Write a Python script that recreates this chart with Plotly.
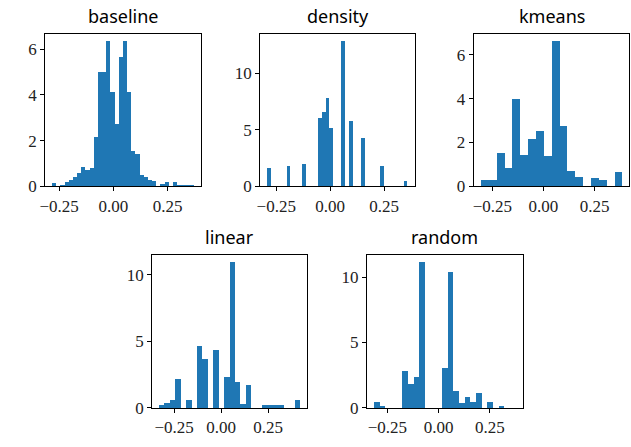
import plotly.graph_objects as go

W, H = 631, 447

titles = ["baseline", "density", "kmeans", "linear", "random"]

# histogram bin ranges (data min / max) and bin heights (density)
baseline_range = (-0.281, 0.372)
baseline_vals = [0.14, 0, 0.04, 0.2, 0.26, 0.41, 0.56, 0.84, 0.73, 0.78, 2.17, 5.0, 5.0, 6.34,
                 4.14, 2.71, 5.64, 6.34, 4.1, 1.52, 1.39, 0.47, 0.42, 0.28, 0.23, 0, 0.08, 0.18,
                 0, 0.18, 0.05, 0.05, 0.05, 0.05]

density_range = (-0.2915, 0.3595)
density_vals = [1.64, 0, 0, 0, 0, 1.79, 0, 0, 0, 1.99, 0, 0, 0, 6.05, 6.54, 7.78, 5.16, 0, 0,
                12.8, 0, 5.76, 0, 0, 4.29, 0, 0, 0, 0, 1.79, 0, 0, 0, 0, 0, 0.43]

kmeans_range = (-0.306, 0.385)
kmeans_vals = [0.30, 0.30, 1.50, 0.83, 3.95, 1.41, 2.17, 2.53, 1.37, 6.6, 2.75, 0.70, 0.40, 0,
               0.36, 0.27, 0, 0.65]

linear_range = (-0.329, 0.421)
linear_vals = [0.17, 0.32, 0.54, 2.15, 0, 0.54, 0, 4.65, 3.62, 0, 4.28, 0, 2.3, 10.9, 1.93,
               0.24, 1.71, 0, 0, 0.17, 0.17, 0.17, 0.17, 0, 0, 0.54]

random_range = (-0.316, 0.376)
random_vals = [0.42, 0.1, 0, 0, 0, 2.8, 1.83, 2.35, 11.1, 0, 0, 0, 3.02, 10.38, 1.3, 0.33,
               0.78, 0.4, 1.08, 0, 0.42, 0, 0.15, 0, 0]

x_tickvals = [-0.25, 0.0, 0.25]
x_ticktext = ["\u22120.25", "0.00", "0.25"]
y_ticks_small = [0, 2, 4, 6]
y_ticks_big = [0, 5, 10]

panels = [
    (baseline_range, baseline_vals, y_ticks_small),
    (density_range, density_vals, y_ticks_big),
    (kmeans_range, kmeans_vals, y_ticks_small),
    (linear_range, linear_vals, y_ticks_big),
    (random_range, random_vals, y_ticks_big),
]

# axes boxes in pixels (left, right, top, bottom)
boxes = [
    (39.7, 197.0, 35.0, 190.7),
    (256.7, 412.7, 35.0, 190.7),
    (472.3, 629.3, 35.0, 190.7),
    (147.7, 304.3, 261.3, 417.3),
    (364.3, 521.7, 261.3, 417.3),
]

BLUE = "#1f77b4"
TICK_FONT = dict(family="Liberation Serif", size=17, color="#222222")

fig = go.Figure()
annotations = []
for i, ((lo, hi), vals, yt) in enumerate(panels):
    n = len(vals)
    w = (hi - lo) / n
    centers = [lo + w * (k + 0.5) for k in range(n)]
    xa = "x" if i == 0 else f"x{i+1}"
    ya = "y" if i == 0 else f"y{i+1}"
    fig.add_trace(go.Bar(x=centers, y=vals, width=[w] * n, marker=dict(color=BLUE, line=dict(width=0)),
                         xaxis=xa, yaxis=ya, showlegend=False))
    l, r, t, b = boxes[i]
    pad = 0.05 * (hi - lo)
    ymax = max(vals) * 1.05
    xkey = "xaxis" if i == 0 else f"xaxis{i+1}"
    ykey = "yaxis" if i == 0 else f"yaxis{i+1}"
    fig.update_layout(**{
        xkey: dict(domain=[l / W, r / W], anchor=ya, range=[lo - pad, hi + pad],
                   tickvals=x_tickvals, ticktext=x_ticktext, ticks="outside", ticklen=4,
                   tickwidth=1.1, tickcolor="black", showline=True, linecolor="black",
                   linewidth=1.1, mirror=True, showgrid=False, zeroline=False,
                   tickfont=TICK_FONT),
        ykey: dict(domain=[1 - b / H, 1 - t / H], anchor=xa, range=[0, ymax],
                   tickvals=yt, ticks="outside", ticklen=4, tickwidth=1.1, tickcolor="black",
                   showline=True, linecolor="black", linewidth=1.1, mirror=True,
                   showgrid=False, zeroline=False, tickfont=TICK_FONT),
    })
    annotations.append(dict(text=titles[i], x=(l + r) / 2 / W, y=1 - t / H, xref="paper",
                            yref="paper", xanchor="center", yanchor="bottom", yshift=4,
                            showarrow=False,
                            font=dict(family="Noto Sans", size=18, color="black")))

fig.update_layout(width=W, height=H, margin=dict(l=0, r=0, t=0, b=0), bargap=0,
                  plot_bgcolor="white", paper_bgcolor="white", annotations=annotations)

fig.write_html("out.html")
